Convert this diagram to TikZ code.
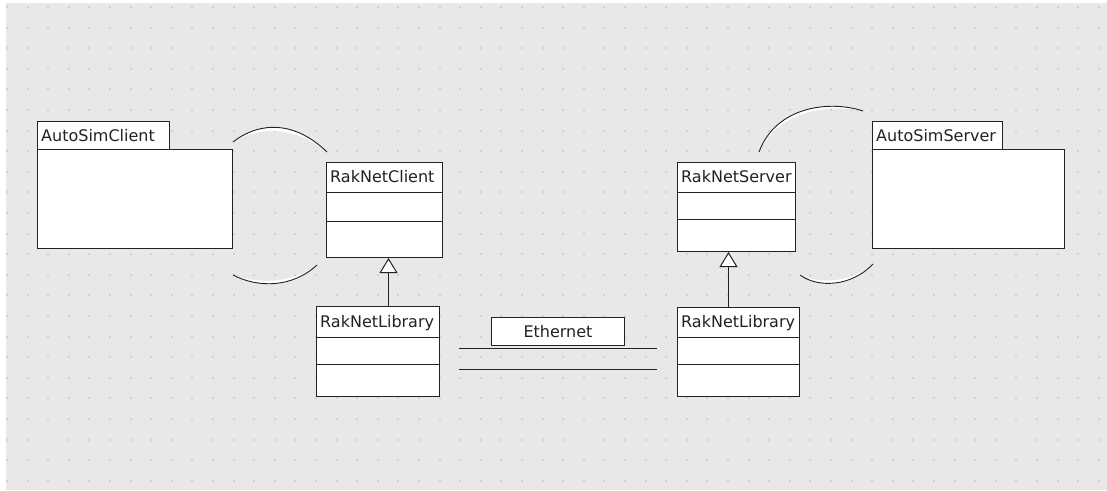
\documentclass[tikz,border=0pt]{standalone}
\usepackage{fontspec}
\setmainfont{DejaVu Sans}
\usetikzlibrary{arrows.meta}
\definecolor{bg}{HTML}{E8E8E8}
\definecolor{dotc}{HTML}{D2D2D2}
\definecolor{ink}{HTML}{222222}
\begin{document}
\begin{tikzpicture}[x=1pt,y=-1pt,
  box/.style={draw=ink, fill=white, line width=1pt, anchor=north west, inner sep=0pt},
  lbl/.style={anchor=base west, inner sep=0pt, font=\fontsize{16}{19}\selectfont, text=ink},
  sep/.style={draw=ink, line width=1pt},
  inherit/.style={draw=ink, line width=1pt, -{Triangle[length=15pt,width=18pt,fill=white]}},
  wire/.style={draw=ink, line width=1pt},
  arcline/.style={draw=ink, line width=0.9pt}]
\useasboundingbox (0,0) rectangle (1107,490);
\fill[white] (0,0) rectangle (1107,490);
\fill[bg] (6,3) rectangle (1107,490);
\foreach \i in {0,...,53}{\foreach \j in {0,...,23}{\fill[dotc] ({6+20.6*\i},{6+20.6*\j}) rectangle ++(2,2);}}

% AutoSimClient package
\node[box, minimum width=132pt, minimum height=28pt] (asctab) at (37,121) {};
\node[box, minimum width=195pt, minimum height=99pt] (asc) at (37,149) {};
\node[lbl] (asct) at ([xshift=4pt,yshift=-20pt]asctab.north west) {AutoSimClient};

% AutoSimServer package
\node[box, minimum width=130pt, minimum height=28pt] (asstab) at (872,121) {};
\node[box, minimum width=192pt, minimum height=99pt] (ass) at (872,149) {};
\node[lbl] (asst) at ([xshift=4pt,yshift=-20pt]asstab.north west) {AutoSimServer};

% RakNetClient
\node[box, minimum width=116pt, minimum height=95pt] (rnc) at (326,162) {};
\node[lbl] (rnct) at ([xshift=4pt,yshift=-20.5pt]rnc.north west) {RakNetClient};
\draw[sep] ([yshift=-30pt]rnc.north west) -- ([yshift=-30pt]rnc.north east);
\draw[sep] ([yshift=-59pt]rnc.north west) -- ([yshift=-59pt]rnc.north east);

% RakNetLibrary left
\node[box, minimum width=123pt, minimum height=90pt] (rnll) at (316,306) {};
\node[lbl] (rnllt) at ([xshift=4pt,yshift=-21pt]rnll.north west) {RakNetLibrary};
\draw[sep] ([yshift=-31pt]rnll.north west) -- ([yshift=-31pt]rnll.north east);
\draw[sep] ([yshift=-58pt]rnll.north west) -- ([yshift=-58pt]rnll.north east);

% RakNetServer
\node[box, minimum width=118pt, minimum height=89pt] (rns) at (677,162) {};
\node[lbl] (rnst) at ([xshift=4pt,yshift=-20.5pt]rns.north west) {RakNetServer};
\draw[sep] ([yshift=-30pt]rns.north west) -- ([yshift=-30pt]rns.north east);
\draw[sep] ([yshift=-57pt]rns.north west) -- ([yshift=-57pt]rns.north east);

% RakNetLibrary right
\node[box, minimum width=122pt, minimum height=89pt] (rnlr) at (677,307) {};
\node[lbl] (rnlrt) at ([xshift=4pt,yshift=-20.5pt]rnlr.north west) {RakNetLibrary};
\draw[sep] ([yshift=-30pt]rnlr.north west) -- ([yshift=-30pt]rnlr.north east);
\draw[sep] ([yshift=-57pt]rnlr.north west) -- ([yshift=-57pt]rnlr.north east);

% Ethernet
\node[box, minimum width=133pt, minimum height=28pt] (eth) at (491,317) {};
\node[anchor=base, inner sep=0pt, font=\fontsize{16}{19}\selectfont, text=ink] (etht) at ([yshift=-20pt]eth.north) {Ethernet};
\coordinate (ea1) at (459,348);
\coordinate (eb1) at (657,348);
\coordinate (ea2) at (459,369);
\coordinate (eb2) at (657,369);
\draw[wire] (ea1) -- (eb1);
\draw[wire] (ea2) -- (eb2);

% generalisations
\draw[inherit] ([xshift=10.5pt]rnll.north) -- ([xshift=4pt]rnc.south);
\draw[inherit] ([xshift=-10pt]rnlr.north) -- ([xshift=-8pt]rns.south);

% client arcs
\fill[white] (233,142) .. controls (260,121) and (295,121) .. (327,152) .. controls (295,126) and (260,126) .. cycle;
\draw[arcline] (233,142) .. controls (260,121) and (295,121) .. (327,152);
\fill[white] (233,275) .. controls (258,288) and (292,288) .. (317,265) .. controls (292,284) and (258,284) .. cycle;
\draw[arcline] (233,275) .. controls (258,288) and (292,288) .. (317,265);

% server arcs
\fill[white] (759,152) .. controls (776,106) and (830,100) .. (863,111) .. controls (830,104) and (778,110) .. cycle;
\draw[arcline] (759,152) .. controls (776,106) and (830,100) .. (863,111);
\fill[white] (800,275) .. controls (818,288) and (851,287) .. (873,264) .. controls (851,283) and (818,284) .. cycle;
\draw[arcline] (800,275) .. controls (818,288) and (851,287) .. (873,264);
\end{tikzpicture}
\end{document}
